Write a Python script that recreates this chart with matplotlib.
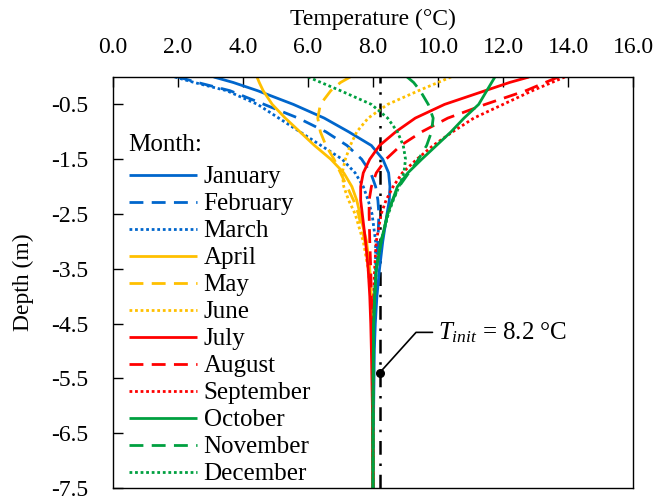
import numpy as np
import matplotlib
matplotlib.use("Agg")
import matplotlib.pyplot as plt

# ==========================================
# Data
# ==========================================
depth = [0.0, -0.1, -0.25, -0.5, -0.75, -1.0, -1.25, -1.5, -1.75, -2.0,
         -2.25, -2.5, -3.0, -3.5, -4.0, -4.5, -5.0, -6.0, -7.5]

january = [3.1, 3.7, 4.45, 5.55, 6.5, 7.25, 7.95, 8.3, 8.48, 8.52,
           8.5, 8.43, 8.3, 8.2, 8.12, 8.07, 8.04, 8.02, 8.0]
february = [2.0, 2.6, 3.6, 4.65, 5.7, 6.55, 7.2, 7.65, 7.93, 8.08,
            8.15, 8.18, 8.15, 8.1, 8.06, 8.04, 8.02, 8.01, 8.0]
march = [1.9, 2.5, 3.5, 4.45, 5.1, 5.75, 6.4, 7.05, 7.45, 7.7,
         7.85, 7.97, 8.08, 8.08, 8.05, 8.03, 8.02, 8.01, 8.0]
april = [4.43, 4.5, 4.62, 4.9, 5.3, 5.75, 6.2, 6.7, 7.1, 7.35,
         7.5, 7.6, 7.8, 7.9, 7.95, 7.97, 7.98, 7.99, 8.0]
may = [7.3, 7.0, 6.7, 6.38, 6.3, 6.38, 6.55, 6.8, 7.0, 7.2,
       7.4, 7.55, 7.75, 7.88, 7.94, 7.97, 7.98, 7.99, 8.0]
june = [10.4, 10.0, 9.4, 8.45, 7.85, 7.5, 7.3, 7.15, 7.05, 7.1,
        7.25, 7.45, 7.7, 7.85, 7.93, 7.96, 7.98, 7.99, 8.0]
july = [12.8, 12.2, 11.45, 10.2, 9.3, 8.7, 8.2, 7.9, 7.7, 7.62,
        7.62, 7.67, 7.77, 7.85, 7.9, 7.93, 7.95, 7.98, 8.0]
august = [13.7, 13.3, 12.7, 11.45, 10.3, 9.5, 8.85, 8.4, 8.1, 7.95,
          7.88, 7.88, 7.9, 7.93, 7.95, 7.97, 7.98, 7.99, 8.0]
september = [13.9, 13.5, 12.9, 12.0, 11.1, 10.45, 9.85, 9.35, 8.9, 8.62,
             8.4, 8.25, 8.1, 8.05, 8.02, 8.01, 8.0, 8.0, 8.0]
october = [11.75, 11.65, 11.5, 11.25, 10.8, 10.4, 9.95, 9.5, 9.07, 8.75,
           8.6, 8.45, 8.25, 8.1, 8.05, 8.02, 8.01, 8.0, 8.0]
november = [9.05, 9.25, 9.45, 9.7, 9.85, 9.8, 9.65, 9.4, 9.1, 8.8,
            8.6, 8.45, 8.25, 8.1, 8.05, 8.02, 8.01, 8.0, 8.0]
december = [6.0, 6.4, 7.0, 7.95, 8.45, 8.75, 8.93, 9.0, 8.95, 8.8,
            8.62, 8.47, 8.25, 8.1, 8.05, 8.02, 8.01, 8.0, 8.0]

months = ["January", "February", "March", "April", "May", "June",
          "July", "August", "September", "October", "November", "December"]
profiles = [january, february, march, april, may, june,
            july, august, september, october, november, december]

t_init = 8.2
t_init_dot_depth = -5.4

x_ticks = [0, 2, 4, 6, 8, 10, 12, 14, 16]
y_ticks = [-0.5, -1.5, -2.5, -3.5, -4.5, -5.5, -6.5, -7.5]

# ==========================================
# Styles
# ==========================================
season_colors = ["#0066CC", "#FFC000", "#FF0000", "#00A040"]
line_dashes = [None, (5, 3), (1, 1)]

plt.rcParams["font.family"] = ["Liberation Serif", "DejaVu Serif"]
plt.rcParams["font.size"] = 17
plt.rcParams["mathtext.fontset"] = "custom"
plt.rcParams["mathtext.rm"] = "Liberation Serif"
plt.rcParams["mathtext.it"] = "Liberation Serif:italic"
plt.rcParams["axes.unicode_minus"] = False

fig = plt.figure(figsize=(6.55, 5.0), dpi=100)
ax = fig.add_axes([0.1725, 0.024, 0.794, 0.822])

for i, (name, temps) in enumerate(zip(months, profiles)):
    color = season_colors[i // 3]
    dash = line_dashes[i % 3]
    line, = ax.plot(temps, depth, color=color, lw=2.0, label=name,
                    solid_capstyle="butt")
    if dash is not None:
        line.set_dashes(dash)

# initial temperature line + label
ax.axvline(t_init, color="black", lw=1.8, dashes=(5.5, 3.5, 1, 3.5), zorder=1)
ax.plot([t_init], [t_init_dot_depth], "o", color="black", ms=5.5, zorder=5)
ax.annotate("$T_{init}$ = 8.2 °C", xy=(t_init, t_init_dot_depth),
            xytext=(10.0, -4.66), va="center", ha="left", fontsize=18,
            arrowprops=dict(arrowstyle="-", color="black", lw=1.2,
                            shrinkA=2, shrinkB=0,
                            connectionstyle="angle,angleA=0,angleB=48,rad=0"))

# axes
ax.set_xlim(0, 16)
ax.set_ylim(-7.5, 0)
ax.xaxis.tick_top()
ax.xaxis.set_label_position("top")
ax.set_xticks(x_ticks)
ax.set_xticklabels([f"{v:.1f}" for v in x_ticks])
ax.set_yticks(y_ticks)
ax.set_yticklabels([f"{v:.1f}" for v in y_ticks])
ax.tick_params(axis="x", direction="in", length=7, width=1, pad=14)
ax.tick_params(axis="y", direction="in", length=7, width=1, pad=18)
ax.set_xlabel("Temperature (°C)", labelpad=8)
ax.set_ylabel("Depth (m)", labelpad=12)
for sp in ax.spines.values():
    sp.set_linewidth(1.0)

leg = ax.legend(title="Month:", loc="upper left", bbox_to_anchor=(0.03, 0.862),
                frameon=False, handlelength=2.75, handletextpad=0.25,
                labelspacing=0.18, borderpad=0, borderaxespad=0,
                fontsize=18, title_fontsize=18, alignment="left")
# a bit more room under the legend title
leg._legend_box.sep = 0.18 * 18 + 4

fig.savefig("out.png", dpi=100)
